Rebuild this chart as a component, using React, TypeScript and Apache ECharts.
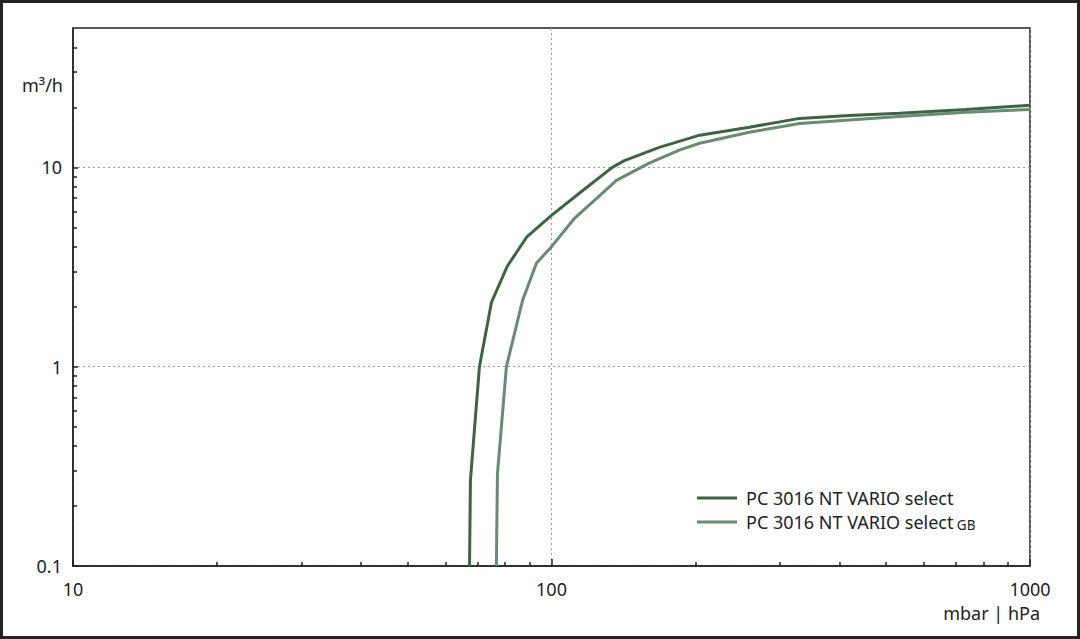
import { useEffect, useRef } from 'react'
import * as echarts from 'echarts'

// Saugvermögen über Druck (log-log)
const SERIES_MAIN = 'PC 3016 NT VARIO select'
const SERIES_GB = 'PC 3016 NT VARIO select GB'

const mainPressure = [67.4, 67.7, 70.7, 74.9, 80.9, 88.7, 100, 115, 134, 142, 168, 204, 259, 330, 419, 533, 735, 1000]
const mainFlow = [0.1, 0.27, 1, 2.1, 3.2, 4.46, 5.74, 7.5, 10, 10.8, 12.6, 14.5, 15.9, 17.6, 18.2, 18.7, 19.5, 20.5]

const gbPressure = [76.7, 77.1, 80.5, 87.0, 93.0, 100, 111.7, 136.7, 160, 185, 204, 259, 330, 533, 735, 1000]
const gbFlow = [0.1, 0.29, 1, 2.15, 3.3, 4.0, 5.55, 8.6, 10.5, 12.2, 13.2, 15.0, 16.6, 18.0, 18.9, 19.5]

const xMajorTicks = [10, 100, 1000]
const xMinorTicks = [20, 30, 40, 50, 60, 70, 80, 90, 200, 300, 400, 500, 600, 700, 800, 900]
const yMajorTicks = [0.1, 1, 10]
const yMinorTicks = [0.2, 0.3, 0.4, 0.5, 0.6, 0.7, 0.8, 0.9, 2, 3, 4, 5, 6, 7, 8, 9, 20, 30, 40]

const FONT = '"Noto Sans", sans-serif'
const INK = '#222'

export default function App() {
  const ref = useRef<HTMLDivElement>(null)

  useEffect(() => {
    if (!ref.current) return
    document.body.style.margin = '0'
    const chart = echarts.init(ref.current, null, { renderer: 'svg' })

    const axisLine = { lineStyle: { color: INK, width: 1.5 } }
    const grid = { lineStyle: { color: '#9a9a9a', width: 1, type: [2, 3] } }
    const label = { color: INK, fontSize: 18, fontFamily: FONT, formatter: (v: number) => String(v) }
    const tick = { color: INK, width: 1.5 }

    // 主轴 + 只画次刻度的叠加轴
    const option: any = {
      animation: false,
      backgroundColor: '#fff',
      grid: { left: 73, right: 50, top: 28, bottom: 73, show: true, borderColor: INK, borderWidth: 1.5 },
      legend: {
        left: 697,
        top: 489,
        padding: 0,
        orient: 'vertical',
        icon: 'rect',
        itemWidth: 40,
        itemHeight: 3,
        itemGap: 6,
        data: [SERIES_MAIN, SERIES_GB],
        formatter: (name: string) =>
          name.endsWith(' GB') ? `{a|${name.slice(0, -3)}} {b|GB}` : `{a|${name}}`,
        textStyle: {
          padding: [0, 0, 0, 4],
          rich: {
            a: { fontSize: 18, fontFamily: FONT, color: INK, lineHeight: 20 },
            b: { fontSize: 13.5, fontFamily: FONT, color: INK, lineHeight: 17, verticalAlign: 'bottom' },
          },
        },
      },
      xAxis: [
        {
          type: 'log', logBase: 10, min: 10, max: 1000,
          axisLine,
          axisTick: { inside: true, length: 7, lineStyle: tick, customValues: xMajorTicks },
          axisLabel: { ...label, margin: 14, customValues: xMajorTicks },
          splitLine: { show: true, ...grid },
        },
        {
          type: 'log', logBase: 10, min: 10, max: 1000, position: 'bottom',
          axisLine: { show: false },
          axisTick: { inside: true, length: 4, lineStyle: tick, customValues: xMinorTicks },
          axisLabel: { show: false },
          splitLine: { show: false },
        },
      ],
      yAxis: [
        {
          type: 'log', logBase: 10, min: 0.1, max: 50,
          axisLine,
          axisTick: { inside: true, length: 5, lineStyle: tick, customValues: yMajorTicks },
          axisLabel: { ...label, margin: 11, customValues: yMajorTicks },
          splitLine: { show: true, ...grid },
        },
        {
          type: 'log', logBase: 10, min: 0.1, max: 50, position: 'left',
          axisLine: { show: false },
          axisTick: { inside: true, length: 4, lineStyle: tick, customValues: yMinorTicks },
          axisLabel: { show: false },
          splitLine: { show: false },
        },
      ],
      series: [
        {
          name: SERIES_MAIN,
          type: 'line',
          data: mainPressure.map((p, i) => [p, mainFlow[i]]),
          showSymbol: false,
          color: '#3f6443',
          lineStyle: { width: 3, color: '#3f6443' },
        },
        {
          name: SERIES_GB,
          type: 'line',
          data: gbPressure.map((p, i) => [p, gbFlow[i]]),
          showSymbol: false,
          color: '#678c71',
          lineStyle: { width: 3, color: '#678c71' },
        },
      ],
      graphic: [
        {
          type: 'text', left: 22, top: 76,
          style: { text: 'm³/h', fontSize: 18, fontFamily: FONT, fill: INK },
        },
        {
          type: 'text', right: 40, top: 604,
          style: { text: 'mbar | hPa', fontSize: 18, fontFamily: FONT, fill: INK },
        },
        {
          type: 'rect', silent: true,
          shape: { x: 1.5, y: 1.5, width: 1077, height: 636 },
          style: { fill: 'none', stroke: INK, lineWidth: 3 },
        },
      ],
    }

    chart.setOption(option)
    return () => chart.dispose()
  }, [])

  return <div ref={ref} style={{ width: 1080, height: 639 }} />
}
